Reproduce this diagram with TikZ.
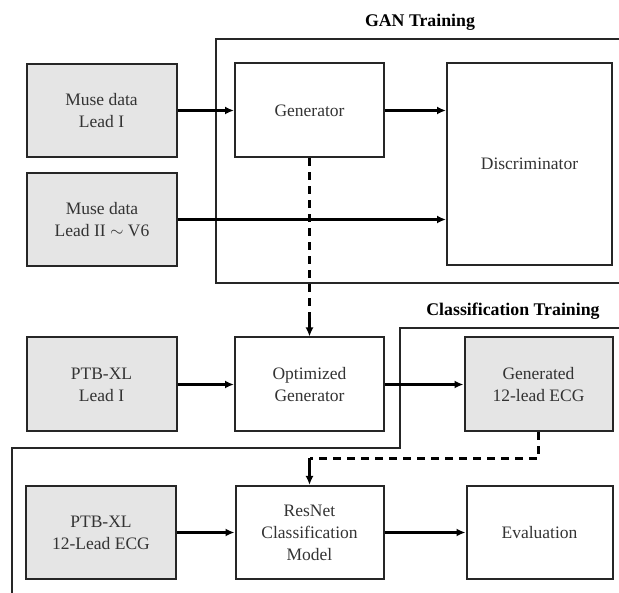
\documentclass[tikz,border=0pt]{standalone}
\usepackage{fontspec}
\setmainfont{Liberation Serif}
\usetikzlibrary{arrows.meta}
\begin{document}
\begin{tikzpicture}[x=1pt,y=-1pt,
  every node/.style={font=\fontsize{17.5}{22}\selectfont},
  blk/.style={draw=black!85, line width=2pt, align=center, inner sep=0pt, text=black!80},
  grey/.style={blk, fill=black!10},
  arr/.style={line width=2.6pt, -{Latex[length=9pt,width=8pt]}},
  dsh/.style={line width=2.6pt, dash pattern=on 8pt off 6pt},
  frame/.style={line width=2pt, draw=black!85},
  ttl/.style={font=\fontsize{17.8}{22}\selectfont\bfseries}]
\useasboundingbox (0,0) rectangle (619,593);
% GAN training frame
\draw[frame] (619,39) -- (216,39) -- (216,283) -- (619,283);
\node[ttl] (gant) at (420,22) {GAN Training};
% Classification training frame
\draw[frame] (619,328) -- (400,328) -- (400,448) -- (12,448) -- (12,593);
\node[ttl] (clst) at (513,311) {Classification Training};
% nodes
\node[grey, minimum width=150pt, minimum height=93pt] (m1) at (101.5,110.5) {Muse data\\Lead I};
\node[grey, minimum width=150pt, minimum height=93pt] (m2) at (102,219.5) {Muse data\\Lead II $\sim$ V6};
\node[blk, minimum width=149pt, minimum height=94pt] (gen) at (309.5,110.5) {Generator};
\node[blk, minimum width=165pt, minimum height=202pt] (disc) at (529.5,164) {Discriminator};
\node[grey, minimum width=150pt, minimum height=94pt] (p1) at (101.5,384.5) {PTB-XL\\Lead I};
\node[blk, minimum width=149pt, minimum height=94pt] (og) at (309.5,384.5) {Optimized\\Generator};
\node[grey, minimum width=148pt, minimum height=94pt] (g12) at (538.5,384.5) {Generated\\12-lead ECG};
\node[grey, minimum width=150pt, minimum height=93pt] (p12) at (101,532.5) {PTB-XL\\12-Lead ECG};
\node[blk, minimum width=148pt, minimum height=93pt] (res) at (309.5,532.5) {ResNet\\Classification\\Model};
\node[blk, minimum width=146pt, minimum height=93pt] (ev) at (539.5,532.5) {Evaluation};
% connectors
\draw[arr] (m1.east) -- (gen.west);
\draw[arr] (gen.east) -- (gen.east -| disc.west);
\draw[arr] (m2.east) -- (m2.east -| disc.west);
\draw[dsh] (gen.south) -- ([yshift=14pt]og.north);
\draw[arr] ([yshift=16pt]og.north) -- (og.north);
\draw[arr] (p1.east) -- (og.west);
\draw[arr] (og.east) -- (g12.west);
\coordinate (c1) at (g12.south |- 0,458.5);
\coordinate (c2) at (res.north |- 0,458.5);
\draw[dsh] (g12.south) -- (c1) -- (c2);
\draw[arr] (c2) -- (res.north);
\draw[arr] (p12.east) -- (res.west);
\draw[arr] (res.east) -- (ev.west);
\end{tikzpicture}
\end{document}
